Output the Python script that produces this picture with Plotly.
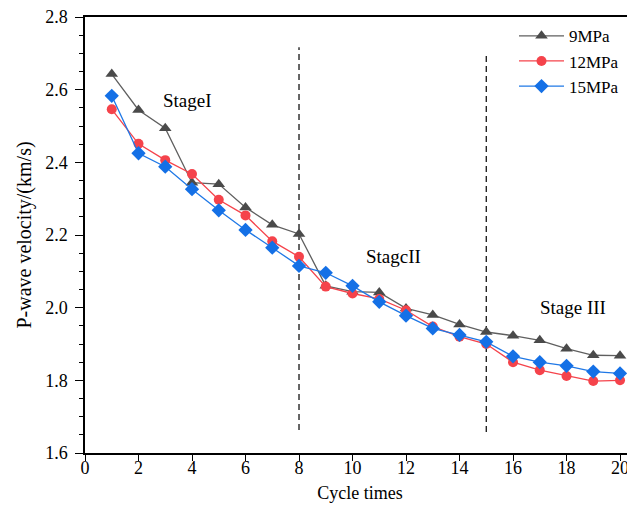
import plotly.graph_objects as go

cycles = list(range(1, 21))
v_9mpa = [2.643, 2.544, 2.494, 2.344, 2.340, 2.276, 2.228, 2.203, 2.060, 2.044,
          2.042, 1.998, 1.980, 1.954, 1.933, 1.923, 1.910, 1.887, 1.869, 1.868]
v_12mpa = [2.546, 2.451, 2.406, 2.368, 2.297, 2.254, 2.183, 2.140, 2.058, 2.039,
           2.024, 1.993, 1.948, 1.920, 1.900, 1.850, 1.828, 1.812, 1.798, 1.800]
v_15mpa = [2.583, 2.425, 2.388, 2.326, 2.268, 2.214, 2.165, 2.115, 2.096, 2.060,
           2.016, 1.978, 1.943, 1.925, 1.906, 1.866, 1.850, 1.840, 1.824, 1.819]
stage_bounds = [8, 15]
stage_labels = ["StageI", "StagcII", "Stage III"]
stage_label_x = [3.85, 11.55, 18.25]
stage_label_y = [2.57, 2.14, 2.00]

FONT = "Liberation Serif"
fig = go.Figure()
fig.add_trace(go.Scatter(x=cycles, y=v_9mpa, name="9MPa", mode="lines+markers",
                         line=dict(color="#5f5f5f", width=1.3),
                         marker=dict(symbol="triangle-up", size=11, color="#4a4a4a")))
fig.add_trace(go.Scatter(x=cycles, y=v_12mpa, name="12MPa", mode="lines+markers",
                         line=dict(color="#f5434b", width=1.3),
                         marker=dict(symbol="circle", size=10, color="#f5434b")))
fig.add_trace(go.Scatter(x=cycles, y=v_15mpa, name="15MPa", mode="lines+markers",
                         line=dict(color="#1f78e6", width=1.3),
                         marker=dict(symbol="diamond", size=11, color="#1470e6")))

bound_top = [2.717, 2.704]
bound_bot = [1.663, 1.658]
for xb, yt, yb in zip(stage_bounds, bound_top, bound_bot):
    fig.add_shape(type="line", x0=xb, x1=xb, y0=yb, y1=yt, xref="x", yref="y",
                  line=dict(color="black", width=1.2, dash="6px,4px"), layer="below")

for t, xx, yy in zip(stage_labels, stage_label_x, stage_label_y):
    fig.add_annotation(x=xx, y=yy, text=t, showarrow=False,
                       font=dict(family=FONT, size=19, color="black"))

fig.update_layout(
    width=627, height=498,
    margin=dict(l=77, r=0, t=9, b=53, autoexpand=False),
    plot_bgcolor="white", paper_bgcolor="white",
    font=dict(family=FONT, size=18, color="black"),
    showlegend=True,
    legend=dict(x=0.78, y=0.997, xanchor="left", yanchor="top",
                bgcolor="rgba(0,0,0,0)", font=dict(family=FONT, size=17),
                itemwidth=45, tracegroupgap=0),
    xaxis=dict(range=[0, 20.56], tickvals=list(range(0, 21, 2)),
               showgrid=False, zeroline=False, showline=True, linecolor="black",
               linewidth=1.5, mirror=True, ticks="outside", ticklen=6, tickwidth=1.3,
               tickcolor="black", ticklabelstandoff=-8, ticklabeloverflow="allow",
               title=dict(text="Cycle times", font=dict(family=FONT, size=18), standoff=9)),
    yaxis=dict(range=[1.6, 2.8], tickvals=[1.6, 1.8, 2.0, 2.2, 2.4, 2.6, 2.8],
               ticktext=["1.6", "1.8", "2.0", "2.2", "2.4", "2.6", "2.8"],
               showgrid=False, zeroline=False, showline=True, linecolor="black",
               linewidth=1.5, ticks="outside", ticklen=8, tickwidth=1.3, tickcolor="black",
               ticklabelstandoff=4, ticklabeloverflow="allow",
               minor=dict(dtick=0.05, tick0=1.6, ticks="outside", ticklen=4,
                          tickwidth=1.1, tickcolor="black", showgrid=False),
               title=dict(text="P-wave velocity/(km/s)", font=dict(family=FONT, size=20),
                          standoff=8)),
)
fig.write_html("out.html")
